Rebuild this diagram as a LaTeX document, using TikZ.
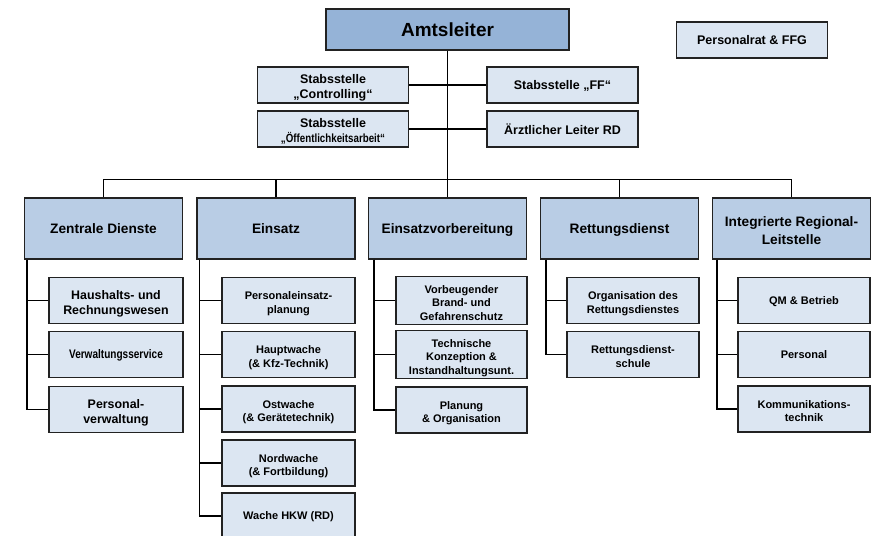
\documentclass[tikz,border=0pt]{standalone}
\usepackage{fontspec}
\setmainfont{Liberation Sans}
\usepackage{graphicx}
\definecolor{amtfill}{HTML}{95B3D7}
\definecolor{depfill}{HTML}{B9CDE5}
\definecolor{subfill}{HTML}{DCE6F2}
\definecolor{edge}{HTML}{222222}
\newcommand{\topfix}[1][16.5pt]{\rule{0pt}{#1}}
\newcommand{\botfix}{\strut}
\tikzset{
  box/.style={draw=edge, line width=1.2pt, inner sep=0pt, align=center},
  single/.style={text depth=0pt},
  amtbox/.style={box, single, fill=amtfill, minimum width=243pt, minimum height=41pt, font=\bfseries\fontsize{19}{22}\selectfont},
  stabbox/.style={box, fill=subfill, minimum width=151pt, minimum height=36pt, font=\bfseries\fontsize{12.5}{14.5}\selectfont},
  depbox/.style={box, fill=depfill, minimum width=158pt, minimum height=61pt, font=\bfseries\fontsize{13.7}{18}\selectfont},
  subbox/.style={box, fill=subfill, minimum height=46pt, font=\bfseries\fontsize{11}{13.5}\selectfont},
  bigsub/.style={subbox, font=\bfseries\fontsize{12.4}{14.3}\selectfont},
  conn/.style={draw=black, line width=1.5pt},
}
\begin{document}
\begin{tikzpicture}[x=1pt,y=-1pt]
\useasboundingbox (0,0) rectangle (872,535);
\clip (0,0) rectangle (872,535);
\fill[white] (0,0) rectangle (872,535);

% top level
\node[amtbox] (amt) at (447.5,29.5) {Amtsleiter};
\node[stabbox] (stc) at (333,85) {\topfix[16pt]Stabsstelle\\„Controlling“\botfix};
\node[stabbox] (stoe) at (333,129) {\topfix[16pt]Stabsstelle\\\scalebox{0.78}[0.95]{„Öffentlichkeitsarbeit“}\botfix};
\node[stabbox, single] (stff) at (562.5,85) {Stabsstelle „FF“};
\node[stabbox, single] (arzt) at (562.5,129) {Ärztlicher Leiter RD};
\node[stabbox, single] (prat) at (752,40) {Personalrat \& FFG};

% departments
\node[depbox, single] (zd)  at (103.5,228.5) {Zentrale Dienste};
\node[depbox, single] (ein) at (276,228.5) {Einsatz};
\node[depbox, single] (ev)  at (447.5,228.5) {Einsatzvorbereitung};
\node[depbox, single] (rd)  at (619.5,228.5) {Rettungsdienst};
\node[depbox] (irl) at (791.5,228.5) {\topfix[19.5pt]Integrierte Regional-\\Leitstelle\botfix};

% Zentrale Dienste
\node[bigsub, minimum width=134pt] (zd1) at (116,300.5) {\topfix[17pt]Haushalts- und\\Rechnungswesen\botfix};
\node[bigsub, single, minimum width=134pt] (zd2) at (116,354.5) {\scalebox{0.81}[1]{Verwaltungsservice}};
\node[bigsub, minimum width=134pt] (zd3) at (116,409.5) {\topfix[17pt]Personal-\\verwaltung\botfix};

% Einsatz
\node[subbox, minimum width=133pt] (ei1) at (288.5,300.5) {\topfix Personaleinsatz-\\planung\botfix};
\node[subbox, minimum width=133pt] (ei2) at (288.5,354.5) {\topfix Hauptwache\\(\& Kfz-Technik)\botfix};
\node[subbox, minimum width=133pt] (ei3) at (288.5,409) {\topfix Ostwache\\(\& Gerätetechnik)\botfix};
\node[subbox, minimum width=133pt] (ei4) at (288.5,463) {\topfix Nordwache\\(\& Fortbildung)\botfix};
\node[subbox, single, minimum width=133pt] (ei5) at (288.5,516) {Wache HKW (RD)};

% Einsatzvorbereitung
\node[subbox, minimum width=131pt] (ev1) at (461.5,300.5) {\topfix Vorbeugender\\Brand- und\\Gefahrenschutz\botfix};
\node[subbox, minimum width=131pt] (ev2) at (461.5,354.5) {\topfix Technische\\Konzeption \&\\Instandhaltungsunt.\botfix};
\node[subbox, minimum width=131pt] (ev3) at (461.5,410) {\topfix Planung\\\& Organisation\botfix};

% Rettungsdienst
\node[subbox, minimum width=132pt] (rd1) at (633,300.5) {\topfix Organisation des\\Rettungsdienstes\botfix};
\node[subbox, minimum width=132pt] (rd2) at (633,354.5) {\topfix Rettungsdienst-\\schule\botfix};

% Integrierte Regional-Leitstelle
\node[subbox, single, minimum width=132pt] (ir1) at (804,300.5) {QM \& Betrieb};
\node[subbox, single, minimum width=132pt] (ir2) at (804,354.5) {Personal};
\node[subbox, minimum width=132pt] (ir3) at (804,409) {\topfix Kommunikations-\\technik\botfix};

% connectors top
\coordinate (bus) at (447.5,179.5);
\draw[conn] (amt.south) -- (ev.north);
\draw[conn] (stc.east) -- (stff.west);
\draw[conn] (stoe.east) -- (arzt.west);
\draw[conn] (zd.north) |- (bus) -| (irl.north);
\draw[conn] (ein.north) -- (ein.north |- bus);
\draw[conn] (rd.north) -- (rd.north |- bus);

% spines
\draw[conn] ([xshift=3pt]zd.south west) |- (zd1.west);
\draw[conn] ([xshift=3pt]zd.south west) |- (zd2.west);
\draw[conn] ([xshift=3pt]zd.south west) |- (zd3.west);

\draw[conn] ([xshift=3pt]ein.south west) |- (ei1.west);
\draw[conn] ([xshift=3pt]ein.south west) |- (ei2.west);
\draw[conn] ([xshift=3pt]ein.south west) |- (ei3.west);
\draw[conn] ([xshift=3pt]ein.south west) |- (ei4.west);
\draw[conn] ([xshift=3pt]ein.south west) |- (ei5.west);

\draw[conn] ([xshift=6pt]ev.south west) |- (ev1.west);
\draw[conn] ([xshift=6pt]ev.south west) |- (ev2.west);
\draw[conn] ([xshift=6pt]ev.south west) |- (ev3.west);

\draw[conn] ([xshift=6pt]rd.south west) |- (rd1.west);
\draw[conn] ([xshift=6pt]rd.south west) |- (rd2.west);

\draw[conn] ([xshift=5pt]irl.south west) |- (ir1.west);
\draw[conn] ([xshift=5pt]irl.south west) |- (ir2.west);
\draw[conn] ([xshift=5pt]irl.south west) |- (ir3.west);
\end{tikzpicture}
\end{document}
